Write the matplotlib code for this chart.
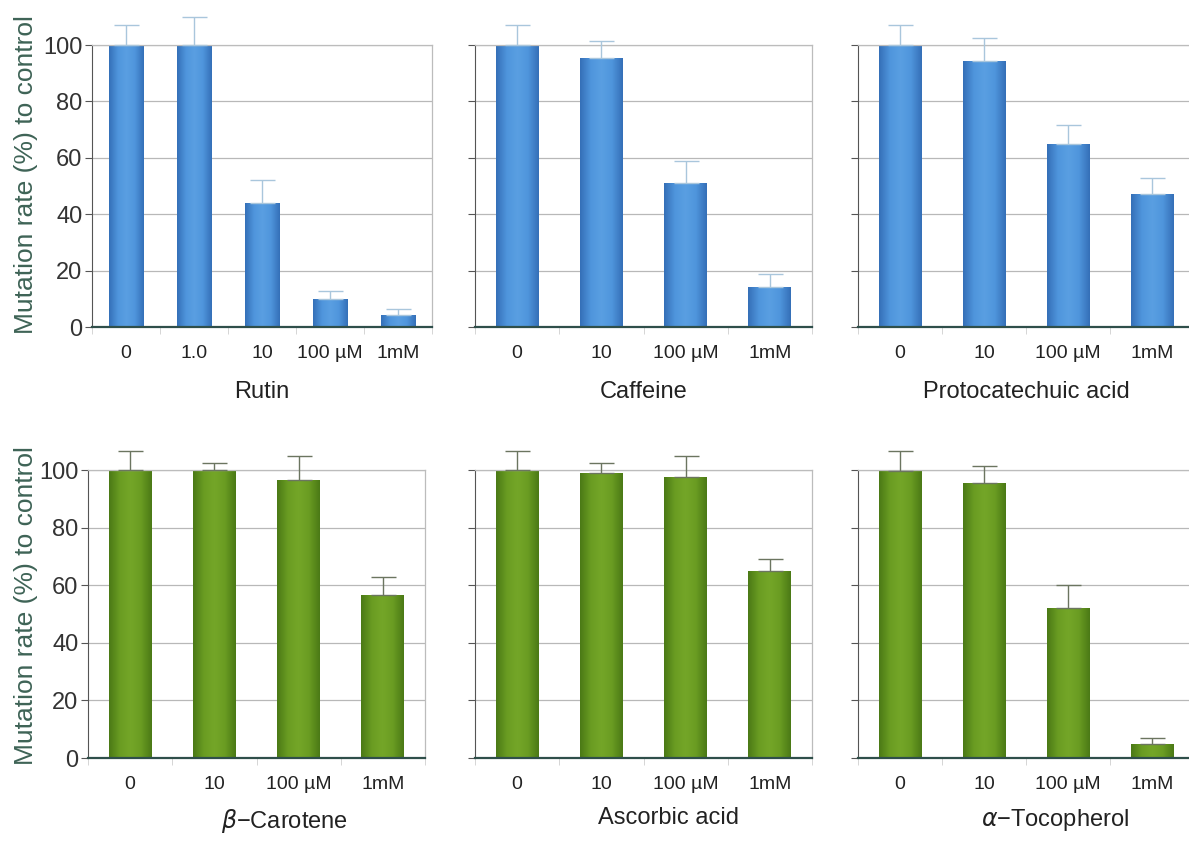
import numpy as np
import matplotlib.pyplot as plt
from matplotlib.colors import LinearSegmentedColormap

# 濃度ラベル
doses5 = ['0', '1.0', '10', '100 µM', '1mM']
doses4 = ['0', '10', '100 µM', '1mM']

# 上段（青）：平均値と誤差（上側のみ）
rutin = [100, 100, 44, 10, 4.3]
rutin_err = [7, 10, 8, 2.8, 2.1]
caffeine = [100, 95.5, 51, 14.2]
caffeine_err = [7, 6, 7.7, 4.7]
protocatechuic = [100, 94.5, 65, 47]
protocatechuic_err = [7, 8, 6.5, 6]

# 下段（緑）
carotene = [100, 100, 96.5, 56.5]
carotene_err = [6.6, 2.6, 8.4, 6.4]
ascorbic = [100, 98.8, 97.5, 65]
ascorbic_err = [6.7, 3.5, 7.5, 4]
tocopherol = [99.5, 95.5, 52, 5]
tocopherol_err = [7, 6, 8, 2]

panels = [
    (doses5, rutin, rutin_err, 'Rutin', 'blue', 0),
    (doses4, caffeine, caffeine_err, 'Caffeine', 'blue', 0),
    (doses4, protocatechuic, protocatechuic_err, 'Protocatechuic acid', 'blue', 0),
    (doses4, carotene, carotene_err, r'$\beta$−Carotene', 'green', 28),
    (doses4, ascorbic, ascorbic_err, 'Ascorbic acid', 'green', 25),
    (doses4, tocopherol, tocopherol_err, r'$\alpha$−Tocopherol', 'green', 29),
]

# 棒の円柱風グラデーション
cmaps = {
    'blue': LinearSegmentedColormap.from_list(
        'b', ['#3570b8', '#4f95dc', '#5a9fe2', '#4f95dc', '#3570b8']),
    'green': LinearSegmentedColormap.from_list(
        'g', ['#4b7a16', '#6a9c22', '#74a628', '#6a9c22', '#4b7a16']),
}
err_colors = {'blue': '#a9c6dc', 'green': '#6b7560'}

# 軸の位置（ピクセル）
W, H = 1189, 846
boxes = [
    (92, 45, 340, 282), (475, 45, 337, 282), (858, 45, 336, 282),
    (88, 470, 337, 288), (475, 470, 337, 288), (858, 470, 336, 288),
]

plt.rcParams['font.family'] = ['Liberation Sans', 'DejaVu Sans']
fig = plt.figure(figsize=(W / 100, H / 100), dpi=100)
grad = np.linspace(0, 1, 64).reshape(1, -1)

for i, ((labels, vals, errs, title, col, shift), (x0, y0, w, h)) in enumerate(zip(panels, boxes)):
    ax = fig.add_axes([x0 / W, 1 - (y0 + h) / H, w / W, h / H])
    x = np.arange(len(labels))
    bars = ax.bar(x, vals, width=0.51, color='none', zorder=2)
    for b in bars:
        bx, by = b.get_x(), b.get_y()
        im = ax.imshow(grad, cmap=cmaps[col], aspect='auto', zorder=2,
                       extent=[bx, bx + b.get_width(), by, by + b.get_height()])
        im.set_clip_path(b)
    ax.errorbar(x, vals, yerr=[np.zeros(len(errs)), errs], fmt='none',
                ecolor=err_colors[col], elinewidth=1, capsize=9, capthick=1,
                clip_on=False, zorder=3)

    ax.set_xlim(-0.5, len(labels) - 0.5)
    ax.set_ylim(0, 100)
    ax.set_yticks([0, 20, 40, 60, 80, 100])
    ax.yaxis.grid(True, color='#b8b8b8', linewidth=0.9)
    ax.set_axisbelow(True)

    ax.set_xticks(x)
    ax.set_xticklabels(labels, fontsize=14, color='#222222')
    ax.set_xticks(np.arange(len(labels) + 1) - 0.5, minor=True)
    ax.tick_params(axis='x', which='major', length=0, pad=13)
    ax.tick_params(axis='x', which='minor', length=5, color='#cfcfcf', direction='out')
    ax.tick_params(axis='y', length=5, color='#555555', direction='out', pad=2)

    if i % 3 == 0:
        ax.set_yticklabels(['0', '20', '40', '60', '80', '100'], fontsize=17, color='#333333')
        ax.set_ylabel('Mutation rate (%) to control', fontsize=19, color='#3e6356')
        ax.yaxis.set_label_coords((38 - x0) / w, 0.54 if i < 3 else 0.53)
    else:
        ax.set_yticklabels([])

    ax.set_xlabel(title, fontsize=17, color='#222222')
    ax.xaxis.set_label_coords(0.5 + shift / w, -0.19 if i < 3 else -0.17)

    for s in ['top', 'right']:
        ax.spines[s].set_color('#bcbcbc')
        ax.spines[s].set_linewidth(0.9)
    ax.spines['left'].set_color('#555555')
    ax.spines['bottom'].set_color('#2f4f4a')
    ax.spines['bottom'].set_linewidth(1.6)

fig.savefig('out.png', dpi=100)
